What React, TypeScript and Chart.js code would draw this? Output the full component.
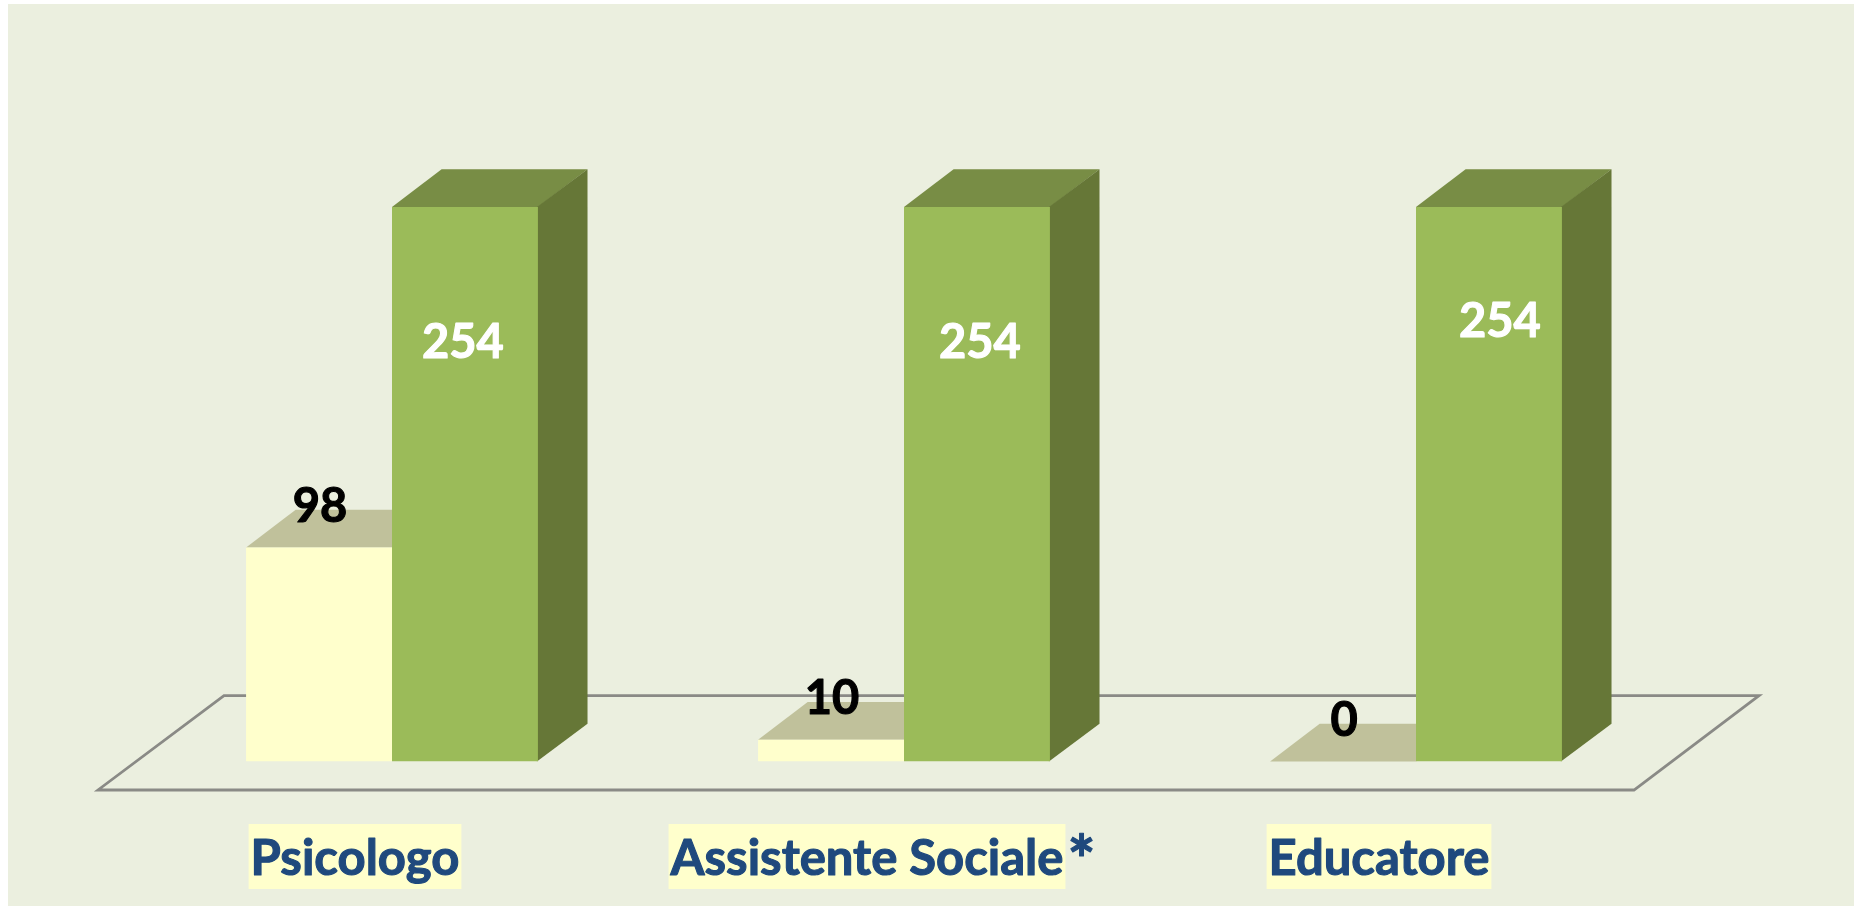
import React, { useEffect, useRef } from "react";
import { Chart, registerables } from "chart.js";

Chart.register(...registerables);

const categories = ["Psicologo", "Assistente Sociale", "Educatore"];
const categorySuffix = ["", "*", ""];
const seriesA = [98, 10, 0];
const seriesB = [254, 254, 254];

const PANEL = "#EBEFDF";
const YELLOW = "#FFFFCC";
const YELLOW_TOP = "#C0C19B";
const GREEN = "#9BBB59";
const GREEN_SIDE = "#667737";
const GREEN_TOP = "#788D45";
const FLOOR = "#8A8A86";
const NAVY = "#1F497D";
const FONT = "Lato, Carlito, sans-serif";

const DX = 49.6;
const DY = 37.7;

// Hand-placed offsets of the white labels, from the centre of each green bar
const whiteLabelShift = [
  { x: -2, y: 136 },
  { x: 3, y: 136 },
  { x: 11, y: 115 },
];

function poly(ctx: CanvasRenderingContext2D, pts: number[][], fill: string) {
  ctx.fillStyle = fill;
  ctx.beginPath();
  pts.forEach((p, i) => (i ? ctx.lineTo(p[0], p[1]) : ctx.moveTo(p[0], p[1])));
  ctx.closePath();
  ctx.fill();
}

function heavyText(ctx: CanvasRenderingContext2D, text: string, x: number, y: number, color: string) {
  ctx.fillStyle = color;
  ctx.strokeStyle = color;
  ctx.lineWidth = 1.1;
  ctx.lineJoin = "round";
  ctx.strokeText(text, x, y);
  ctx.fillText(text, x, y);
}

const scene = {
  id: "scene",
  beforeDraw(chart: any) {
    const { ctx, width, height } = chart;
    ctx.save();
    ctx.fillStyle = "#FFFFFF";
    ctx.fillRect(0, 0, width, height);
    ctx.fillStyle = PANEL;
    ctx.fillRect(8, 4, 1846, 902);
    ctx.restore();
  },
  beforeDatasetsDraw(chart: any) {
    const { ctx, scales } = chart;
    const y0 = scales.y.getPixelForValue(0);
    ctx.save();
    ctx.strokeStyle = FLOOR;
    ctx.lineWidth = 2.8;
    ctx.lineJoin = "miter";
    ctx.beginPath();
    ctx.moveTo(98, y0 + 28.5);
    ctx.lineTo(1634, y0 + 28.5);
    ctx.lineTo(1759, y0 - 65.8);
    ctx.lineTo(224, y0 - 65.8);
    ctx.closePath();
    ctx.stroke();

    chart.getDatasetMeta(0).data.forEach((bar: any) => {
      const l = bar.x - bar.width / 2;
      const r = bar.x + bar.width / 2;
      poly(ctx, [[l, bar.y], [r, bar.y], [r + DX, bar.y - DY], [l + DX, bar.y - DY]], YELLOW_TOP);
    });
    chart.getDatasetMeta(1).data.forEach((bar: any) => {
      const l = bar.x - bar.width / 2;
      const r = bar.x + bar.width / 2;
      poly(ctx, [[l, bar.y], [r, bar.y], [r + DX, bar.y - DY], [l + DX, bar.y - DY]], GREEN_TOP);
      poly(ctx, [[r - 1, bar.y], [r + DX, bar.y - DY], [r + DX, bar.base - DY], [r - 1, bar.base]], GREEN_SIDE);
    });
    ctx.restore();
  },
  afterDatasetsDraw(chart: any) {
    const { ctx, scales } = chart;
    ctx.save();
    ctx.font = `bold 47px ${FONT}`;
    ctx.textAlign = "center";
    ctx.textBaseline = "middle";

    chart.getDatasetMeta(0).data.forEach((bar: any, i: number) => {
      heavyText(ctx, String(seriesA[i]), bar.x + 1, bar.y - 41, "#000000");
    });
    chart.getDatasetMeta(1).data.forEach((bar: any, i: number) => {
      const s = whiteLabelShift[i];
      heavyText(ctx, String(seriesB[i]), bar.x + s.x, bar.y + s.y, "#FFFFFF");
    });

    ctx.textAlign = "left";
    ctx.textBaseline = "alphabetic";
    const y0 = scales.y.getPixelForValue(0);
    categories.forEach((name, i) => {
      ctx.font = `bold 49px ${FONT}`;
      const cx = scales.x.getPixelForTick(i) - 37;
      const w = ctx.measureText(name).width;
      const left = cx - w / 2 - 2;
      ctx.fillStyle = YELLOW;
      ctx.fillRect(left, y0 + 62.5, w + 4, 65);
      heavyText(ctx, name, left + 2, y0 + 113.5, NAVY);
      if (categorySuffix[i]) {
        ctx.font = `bold 66px ${FONT}`;
        heavyText(ctx, categorySuffix[i], left + w + 6, y0 + 122, NAVY);
      }
    });
    ctx.restore();
  },
};

export default function App() {
  const ref = useRef<HTMLCanvasElement>(null);
  useEffect(() => {
    document.body.style.margin = "0";
    const chart = new Chart(ref.current as HTMLCanvasElement, {
      type: "bar",
      data: {
        labels: categories,
        datasets: [
          { label: "A", data: seriesA, backgroundColor: YELLOW, borderWidth: 0 },
          { label: "B", data: seriesB, backgroundColor: GREEN, borderWidth: 0 },
        ],
      },
      options: {
        responsive: false,
        animation: false,
        layout: { padding: { left: 136, right: 183, top: 106.6, bottom: 145.5 } },
        datasets: { bar: { categoryPercentage: 0.57, barPercentage: 1 } },
        plugins: { legend: { display: false }, title: { display: false }, tooltip: { enabled: false } },
        scales: {
          x: { display: false, grid: { display: false } },
          y: { display: false, min: 0, max: 300, grid: { display: false } },
        },
      } as any,
      plugins: [scene],
    });
    return () => chart.destroy();
  }, []);
  return (
    <canvas
      ref={ref}
      width={1855}
      height={907}
      style={{ display: "block", position: "absolute", left: 0, top: 0, width: 1855, height: 907 }}
    />
  );
}
